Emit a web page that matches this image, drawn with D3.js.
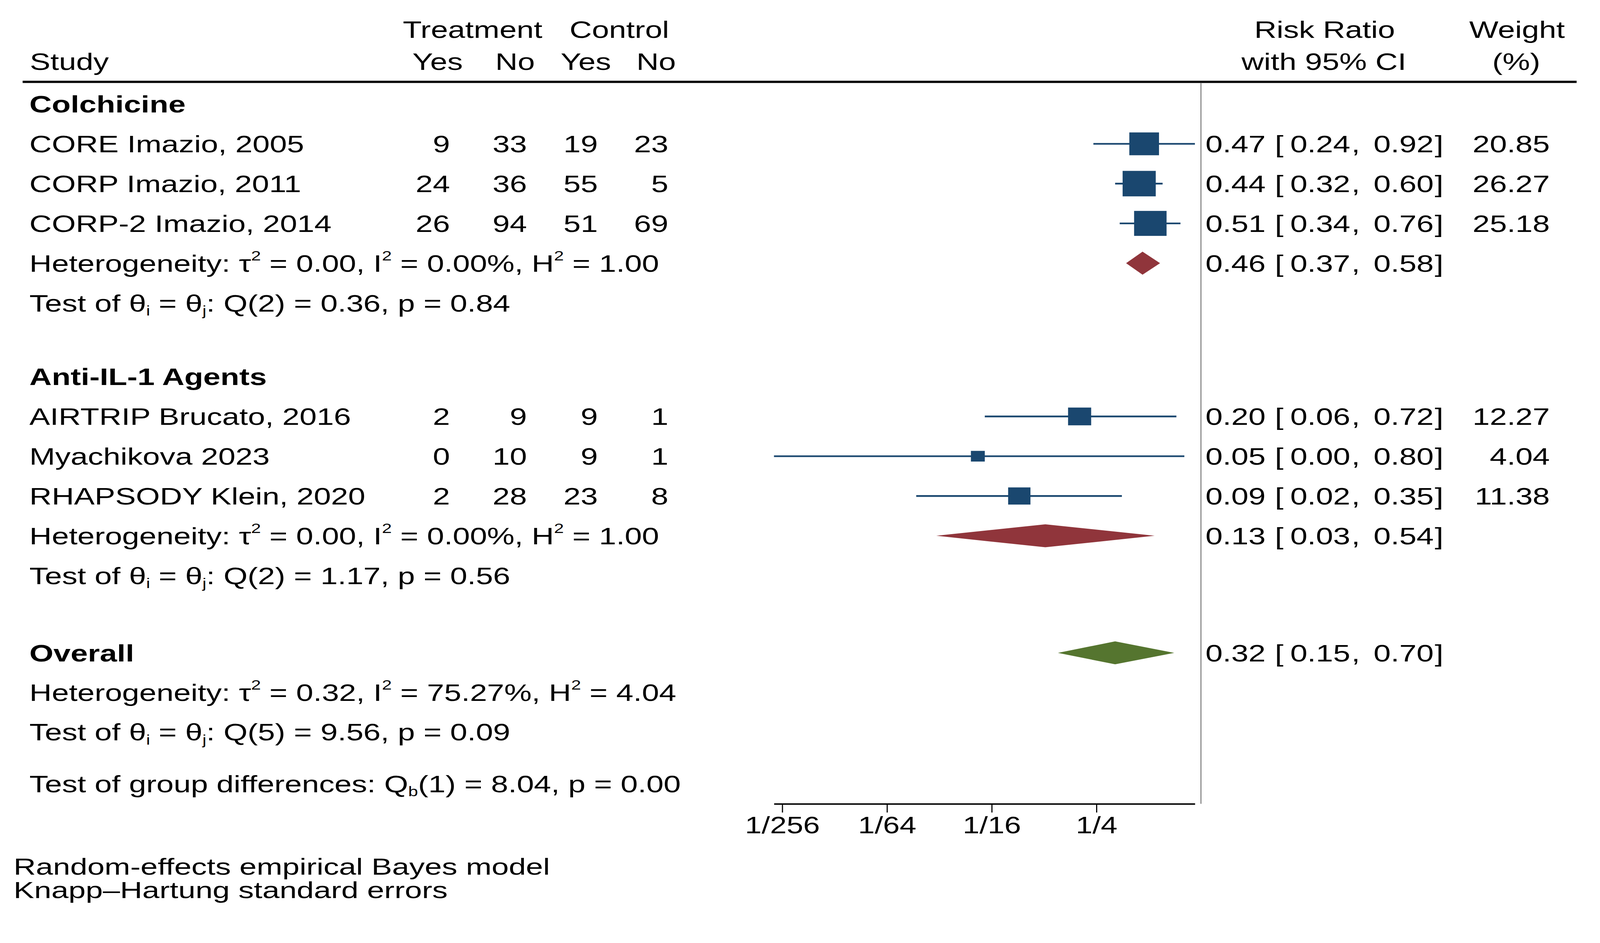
<!DOCTYPE html>
<html>
<head>
<meta charset="utf-8">
<script src="https://cdn.jsdelivr.net/npm/d3@7"></script>
<style>
  html, body { margin: 0; padding: 0; background: #fff; overflow: hidden; width: 100%; height: 100%; }
  svg { display: block; width: 100vw; height: 100vh; }
  text { font-family: "Liberation Sans", Arial, Helvetica, sans-serif; fill: #000; white-space: pre; }
</style>
</head>
<body>
<svg id="chart" viewBox="0 0 4242 2415" preserveAspectRatio="xMidYMin meet"></svg>
<script>
// ---------------- DATA ----------------
const studies   = ["CORE Imazio, 2005", "CORP Imazio, 2011", "CORP-2 Imazio, 2014",
                   "AIRTRIP Brucato, 2016", "Myachikova 2023", "RHAPSODY Klein, 2020"];
const studyGroup = [0, 0, 0, 1, 1, 1];
const treatYes  = [9, 24, 26, 2, 0, 2];
const treatNo   = [33, 36, 94, 9, 10, 28];
const ctrlYes   = [19, 55, 51, 9, 9, 23];
const ctrlNo    = [23, 5, 69, 1, 1, 8];
const rr        = [0.47, 0.44, 0.51, 0.20, 0.052, 0.09];
const rrLow     = [0.24, 0.32, 0.34, 0.057, 0.0035, 0.023];
const rrHigh    = [0.92, 0.60, 0.76, 0.72, 0.80, 0.35];
const weights   = [20.85, 26.27, 25.18, 12.27, 4.04, 11.38];

const groupNames = ["Colchicine", "Anti-IL-1 Agents"];
const groupRR    = [0.46, 0.127];
const groupLow   = [0.37, 0.03];
const groupHigh  = [0.58, 0.54];
const groupTau2  = ["0.00", "0.00"];
const groupI2    = ["0.00", "0.00"];
const groupH2    = ["1.00", "1.00"];
const groupQdf   = [2, 2];
const groupQ     = ["0.36", "1.17"];
const groupP     = ["0.84", "0.56"];

const overallRR = 0.32, overallLow = 0.15, overallHigh = 0.70;
const overallTau2 = "0.32", overallI2 = "75.27", overallH2 = "4.04";
const overallQdf = 5, overallQ = "9.56", overallP = "0.09";
const groupDiffQ = "8.04", groupDiffDf = 1, groupDiffP = "0.00";

const tickValues = [1/256, 1/64, 1/16, 1/4];
const tickLabels = ["1/256", "1/64", "1/16", "1/4"];

const footnotes = ["Random-effects empirical Bayes model", "Knapp\u2013Hartung standard errors"];

// ---------------- STYLE / LAYOUT ----------------
const FS = 63;          // font size
const SX = 1.30;        // horizontal stretch of the original picture
const NAVY = "#1a476f", MAROON = "#90353b", GREEN = "#55752f";

const svg = d3.select("#chart");

const x = d3.scaleLog().base(2).domain([0.0035, 0.92]).range([2052, 3168]);

// text helper: segments may contain sup/sub
function addText(px, py, segs, opts = {}) {
  const g = svg.append("g").attr("transform", `translate(${px},${py}) scale(${opts.sx || SX},1)`);
  const t = g.append("text")
    .attr("text-anchor", opts.anchor || "start")
    .attr("font-size", opts.size || FS)
    .attr("font-weight", opts.bold ? "bold" : "normal");
  if (typeof segs === "string") segs = [{ t: segs }];
  let shift = 0;
  segs.forEach(s => {
    const ts = t.append("tspan").text(s.t);
    let target = 0, fs = null;
    if (s.sup) { target = -30; fs = 36; }
    if (s.sub) { target = 11; fs = 36; }
    ts.attr("dy", target - shift);
    if (fs) ts.attr("font-size", fs);
    shift = target;
  });
  return t;
}

const hetSegs = (t2, i2, h2) => [
  { t: "Heterogeneity: \u03c4" }, { t: "2", sup: true }, { t: ` = ${t2}, I` }, { t: "2", sup: true },
  { t: ` = ${i2}%, H` }, { t: "2", sup: true }, { t: ` = ${h2}` }];
const testSegs = (df, q, p) => [
  { t: "Test of \u03b8" }, { t: "i", sub: true }, { t: " = \u03b8" }, { t: "j", sub: true },
  { t: `: Q(${df}) = ${q}, p = ${p}` }];

// Column positions
const colName = 78;
const colNums = [1193, 1397, 1585, 1772];
const colRR = 3196, colBrL = 3380, colLo = 3580, colComma = 3583, colHi = 3801, colBrR = 3804;
const colW = 4109;
const vLineX = 3184;
const axisY = 2132;

// ---------------- HEADER ----------------
addText(1253, 100, "Treatment", { anchor: "middle" });
addText(1642, 100, "Control", { anchor: "middle" });
addText(79, 185, "Study");
addText(1227, 185, "Yes", { anchor: "end" });
addText(1418, 185, "No", { anchor: "end" });
addText(1620, 185, "Yes", { anchor: "end" });
addText(1792, 185, "No", { anchor: "end" });
addText(3512, 100, "Risk Ratio", { anchor: "middle" });
addText(3510, 185, "with 95% CI", { anchor: "middle" });
addText(4022, 100, "Weight", { anchor: "middle" });
addText(4020, 185, "(%)", { anchor: "middle" });

svg.append("line").attr("x1", 60).attr("x2", 4180).attr("y1", 217).attr("y2", 217)
  .attr("stroke", "#000").attr("stroke-width", 6);

// vertical line
svg.append("line").attr("x1", vLineX).attr("x2", vLineX).attr("y1", 220).attr("y2", axisY)
  .attr("stroke", "#8a8a8a").attr("stroke-width", 3);

// ---------------- ROWS ----------------
const ROW = 105.5;
const rows = [];
let yc = 276;
function push(r, step) { yc += step; r.y = yc; rows.push(r); }
push({ kind: "ghead", g: 0 }, 0);
[0, 1, 2].forEach(i => push({ kind: "study", i }, ROW));
push({ kind: "gpool", g: 0 }, ROW);
push({ kind: "gtest", g: 0 }, ROW);
push({ kind: "ghead", g: 1 }, 195.5);
[3, 4, 5].forEach(i => push({ kind: "study", i }, ROW));
push({ kind: "gpool", g: 1 }, ROW);
push({ kind: "gtest", g: 1 }, ROW);
push({ kind: "overall" }, 205);
push({ kind: "ohet" }, 105);
push({ kind: "otest" }, 105);
push({ kind: "odiff" }, 137);

const BL = 22.5; // baseline offset from row centre
const f2 = v => v.toFixed(2);

function ciText(y, r, lo, hi) {
  addText(colRR, y + BL, f2(r));
  addText(colBrL, y + BL, "[");
  addText(colLo, y + BL, f2(lo), { anchor: "end" });
  addText(colComma, y + BL, ",");
  addText(colHi, y + BL, f2(hi), { anchor: "end" });
  addText(colBrR, y + BL, "]");
}

function diamond(y, r, lo, hi, color) {
  const h = 30.5;
  svg.append("path")
    .attr("d", `M${x(lo)},${y} L${x(r)},${y - h} L${x(hi)},${y} L${x(r)},${y + h} Z`)
    .attr("fill", color);
}

rows.forEach(row => {
  const y = row.y;
  if (row.kind === "ghead") {
    addText(colName, y + BL, groupNames[row.g], { bold: true });
  } else if (row.kind === "study") {
    const i = row.i;
    addText(colName, y + BL, studies[i]);
    [treatYes[i], treatNo[i], ctrlYes[i], ctrlNo[i]].forEach((v, k) =>
      addText(colNums[k], y + BL, String(v), { anchor: "end" }));
    svg.append("line").attr("x1", x(rrLow[i])).attr("x2", x(rrHigh[i]))
      .attr("y1", y).attr("y2", y).attr("stroke", NAVY).attr("stroke-width", 4.5);
    const side = 12.6 * Math.sqrt(weights[i]) + 3;
    svg.append("rect")
      .attr("x", x(rr[i]) - side * SX / 2).attr("y", y - side / 2)
      .attr("width", side * SX).attr("height", side)
      .attr("fill", NAVY);
    ciText(y, rr[i], rrLow[i], rrHigh[i]);
    addText(colW, y + BL, f2(weights[i]), { anchor: "end" });
  } else if (row.kind === "gpool") {
    const g = row.g;
    addText(colName, y + BL, hetSegs(groupTau2[g], groupI2[g], groupH2[g]));
    diamond(y, groupRR[g], groupLow[g], groupHigh[g], MAROON);
    ciText(y, groupRR[g], groupLow[g], groupHigh[g]);
  } else if (row.kind === "gtest") {
    const g = row.g;
    addText(colName, y + BL, testSegs(groupQdf[g], groupQ[g], groupP[g]));
  } else if (row.kind === "overall") {
    addText(colName, y + BL, "Overall", { bold: true });
    diamond(y, overallRR, overallLow, overallHigh, GREEN);
    ciText(y, overallRR, overallLow, overallHigh);
  } else if (row.kind === "ohet") {
    addText(colName, y + BL, hetSegs(overallTau2, overallI2, overallH2));
  } else if (row.kind === "otest") {
    addText(colName, y + BL, testSegs(overallQdf, overallQ, overallP));
  } else if (row.kind === "odiff") {
    addText(colName, y + BL, [{ t: "Test of group differences: Q" }, { t: "b", sub: true },
      { t: `(${groupDiffDf}) = ${groupDiffQ}, p = ${groupDiffP}` }]);
  }
});

// ---------------- AXIS ----------------
const axis = d3.axisBottom(x).tickValues(tickValues)
  .tickFormat((d, i) => tickLabels[i]).tickSize(23).tickSizeOuter(0);
const ag = svg.append("g").attr("transform", `translate(0,${axisY})`).call(axis);
ag.select(".domain").attr("stroke", "#000").attr("stroke-width", 4);
ag.selectAll(".tick line").attr("stroke", "#000").attr("stroke-width", 3);
ag.selectAll(".tick text")
  .attr("y", 78).attr("dy", 0)
  .attr("font-size", FS)
  .attr("font-family", "'Liberation Sans', Arial, sans-serif")
  .attr("fill", "#000")
  .attr("transform", `scale(1.26,1)`);

// ---------------- FOOTNOTES ----------------
addText(36, 2320, footnotes[0], { size: 62, sx: 1.32 });
addText(36, 2382, footnotes[1], { size: 62, sx: 1.32 });
</script>
</body>
</html>
